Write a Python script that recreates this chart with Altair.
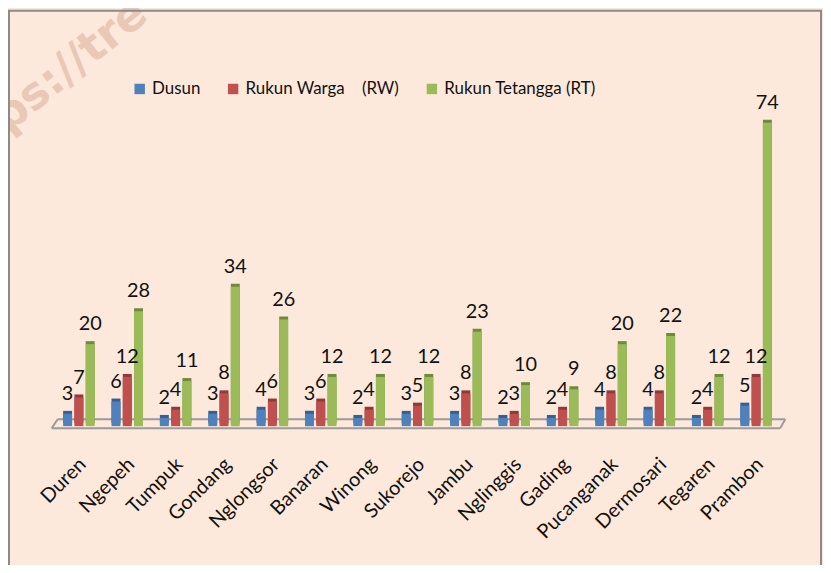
import altair as alt
import pandas as pd

villages = ["Duren", "Ngepeh", "Tumpuk", "Gondang", "Nglongsor", "Banaran", "Winong",
            "Sukorejo", "Jambu", "Nglinggis", "Gading", "Pucanganak", "Dermosari",
            "Tegaren", "Prambon"]
dusun = [3, 6, 2, 3, 4, 3, 2, 3, 3, 2, 2, 4, 4, 2, 5]
rw = [7, 12, 4, 8, 6, 6, 4, 5, 8, 3, 4, 8, 8, 4, 12]
rt = [20, 28, 11, 34, 26, 12, 12, 12, 23, 10, 9, 20, 22, 12, 74]
series = ["Dusun", "Rukun Warga\u00a0\u00a0\u00a0\u00a0(RW)", "Rukun Tetangga (RT)"]
front_colors = ["#4F81BD", "#C0504D", "#9BBB59"]
side_colors = ["#37608F", "#8E3A38", "#6F8A3C"]

rows = []
for i, v in enumerate(villages):
    for s, vals in zip(series, [dusun, rw, rt]):
        rows.append({"village": v, "series": s, "value": vals[i]})
df = pd.DataFrame(rows)
one = pd.DataFrame({"a": [0]})

W, H = 730, 330
PL, PT, PR = 47, 89, 43
PB = 557 - PT - H
FONT = "Lato"
GRAY = "#9A9A9A"

x = alt.X("village:N", sort=villages,
          scale=alt.Scale(paddingInner=0.3, paddingOuter=0.15),
          axis=alt.Axis(title=None, labelAngle=315, labelAlign="right", labelBaseline="top",
                        labelPadding=28, labelOffset=-3, labelFontSize=20, labelFont=FONT,
                        labelColor="#111111", domain=False, ticks=False, labelOverlap=False))
xo = alt.XOffset("series:N", sort=series)
y = alt.Y("value:Q", scale=alt.Scale(domain=[0, 80]), axis=None)

base = alt.Chart(df)

side = base.mark_bar(width=9, xOffset=3, yOffset=-3).encode(
    x=x, xOffset=xo, y=y,
    color=alt.Color("series:N", sort=series,
                    scale=alt.Scale(domain=series, range=side_colors), legend=None))

front = base.mark_bar(width=9).encode(
    x=x, xOffset=xo, y=y,
    fill=alt.Fill("series:N", sort=series,
                  scale=alt.Scale(domain=series, range=front_colors),
                  legend=alt.Legend(title=None, orient="none", direction="horizontal",
                                    legendX=77, legendY=-18, symbolType="square",
                                    symbolSize=110, symbolStrokeWidth=0,
                                    labelFontSize=17, labelFont=FONT, labelColor="#111111",
                                    columnPadding=24, labelOffset=4)))

labels = base.mark_text(baseline="bottom", dy=-10, fontSize=20, font=FONT,
                        color="#111111").encode(
    x=x, xOffset=xo, y=y, text="value:Q")

floor_front = alt.Chart(one).mark_rule(color=GRAY, strokeWidth=2).encode(
    x=alt.value(-3), x2=alt.value(730), y=alt.value(H + 2))
floor_back = alt.Chart(one).mark_rule(color=GRAY, strokeWidth=2).encode(
    x=alt.value(3), x2=alt.value(735), y=alt.value(H - 7))
floor_left = alt.Chart(one).mark_rule(color=GRAY, strokeWidth=2).encode(
    x=alt.value(-3), x2=alt.value(3), y=alt.value(H + 2), y2=alt.value(H - 7))
floor_right = alt.Chart(one).mark_rule(color=GRAY, strokeWidth=2).encode(
    x=alt.value(730), x2=alt.value(735), y=alt.value(H + 2), y2=alt.value(H - 7))

watermark = alt.Chart(one).mark_text(
    text="https://tre", angle=321, fontSize=45, fontWeight="bold", font="DejaVu Sans",
    color="#EAC8B6", align="right", baseline="alphabetic").encode(
    x=alt.value(96), y=alt.value(-80))

border = alt.Chart(one).mark_rect(filled=False, stroke="#8A8A8A", strokeWidth=2).encode(
    x=alt.value(-PL + 1), x2=alt.value(W + PR - 2),
    y=alt.value(-PT + 1), y2=alt.value(H + PB + 20))

chart = alt.layer(
    watermark, floor_back, floor_left, floor_right, floor_front, side, front, labels, border
).resolve_scale(color="independent", fill="independent").properties(
    width=W, height=H,
    padding={"left": PL, "top": PT, "right": PR, "bottom": PB},
    autosize=alt.AutoSizeParams(type="none"),
).configure(background="#FDE9DB").configure_view(stroke=None)

chart.save("out.html", embed_options={"renderer": "svg", "actions": False})
